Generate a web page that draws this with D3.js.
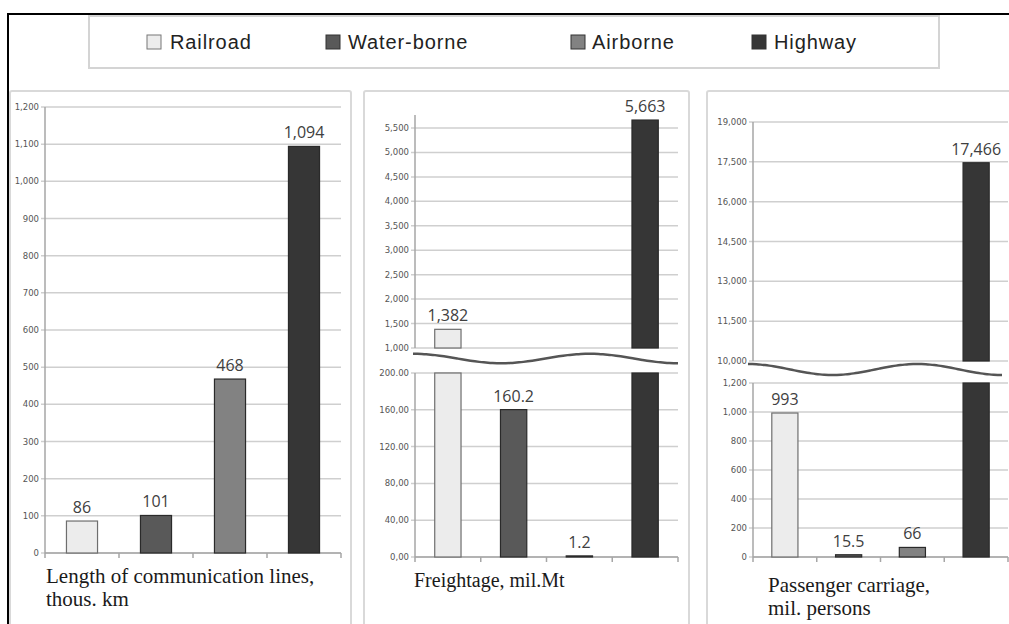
<!DOCTYPE html>
<html>
<head>
<meta charset="utf-8">
<script src="https://cdn.jsdelivr.net/npm/d3@7"></script>
<style>
  body { margin: 0; background: #fff; }
  svg { display: block; }
</style>
</head>
<body>
<script>
// transport comparison, three panels (two of them with a broken y axis)
var categories = ["Railroad", "Water-borne", "Airborne", "Highway"];
var colors = ["#ececec", "#595959", "#828282", "#363636"];

var lengthValues = [86, 101, 468, 1094];
var freightValues = [1382, 160.2, 1.2, 5663];
var passengerValues = [993, 15.5, 66, 17466];

var lengthTicks = [0, 100, 200, 300, 400, 500, 600, 700, 800, 900, 1000, 1100, 1200];
var freightUpperTicks = [1000, 1500, 2000, 2500, 3000, 3500, 4000, 4500, 5000, 5500];
var freightLowerTicks = [0, 40, 80, 120, 160, 200];
var freightLowerTickLabels = ["0,00", "40,00", "80,00", "120.00", "160,00", "200.00"];
var passengerUpperTicks = [10000, 11500, 13000, 14500, 16000, 17500, 19000];
var passengerLowerTicks = [0, 200, 400, 600, 800, 1000, 1200];

var W = 1009, H = 624;
var fmt = d3.format(",");

var svg = d3.select("body").append("svg")
    .attr("width", W)
    .attr("height", H);

svg.append("rect").attr("width", W).attr("height", H).attr("fill", "#fff");

// outer frame (top + left only visible)
svg.append("path")
    .attr("d", "M8," + H + "V14H" + W)
    .attr("fill", "none")
    .attr("stroke", "#000")
    .attr("stroke-width", 2);

// legend
svg.append("rect")
    .attr("x", 89).attr("y", 16)
    .attr("width", 850).attr("height", 52)
    .attr("fill", "#fff")
    .attr("stroke", "#d4d4d4")
    .attr("stroke-width", 2);

var legendSquareX = [147, 326, 571, 752];
var legendTextX = [170, 348, 592, 774];
var legend = svg.append("g").selectAll("g")
    .data(categories)
    .enter().append("g");
legend.append("rect")
    .attr("x", function(d, i) { return legendSquareX[i]; })
    .attr("y", 35)
    .attr("width", 14).attr("height", 14)
    .attr("fill", function(d, i) { return colors[i]; })
    .attr("stroke", function(d, i) { return i === 0 ? "#777" : "#333"; })
    .attr("stroke-width", 1);
legend.append("text")
    .attr("x", function(d, i) { return legendTextX[i]; })
    .attr("y", 49)
    .style("font-family", "'Liberation Sans', Arial, sans-serif")
    .style("font-size", "20px")
    .style("letter-spacing", "0.9px")
    .attr("fill", "#222")
    .text(function(d) { return d; });

// panel frames
[[10, 341], [364, 325], [707, 400]].forEach(function(p) {
  svg.append("rect")
      .attr("x", p[0]).attr("y", 91)
      .attr("width", p[1]).attr("height", 600)
      .attr("rx", 2)
      .attr("fill", "#fff")
      .attr("stroke", "#d9d9d9")
      .attr("stroke-width", 2);
});

function drawSection(g, x, y, ticks, labels, axisTop) {
  var x0 = x.range()[0], x1 = x.range()[1];
  g.append("g").selectAll("line")
      .data(ticks)
      .enter().append("line")
      .attr("x1", x0 - 4).attr("x2", x1)
      .attr("y1", function(d) { return y(d); })
      .attr("y2", function(d) { return y(d); })
      .attr("stroke", "#cfcfcf")
      .attr("stroke-width", 1.5);
  g.append("line")
      .attr("x1", x0).attr("x2", x0)
      .attr("y1", axisTop).attr("y2", y.range()[0])
      .attr("stroke", "#a6a6a6")
      .attr("stroke-width", 1.5);
  g.append("g").selectAll("text")
      .data(ticks)
      .enter().append("text")
      .attr("x", x0 - 6)
      .attr("y", function(d) { return y(d) + 3; })
      .attr("text-anchor", "end")
      .style("font-family", "'DejaVu Sans', Verdana, sans-serif")
      .style("font-size", "8.5px")
      .attr("fill", "#555")
      .text(function(d, i) { return labels ? labels[i] : fmt(d); });
}

function drawXAxis(g, x, yBase) {
  var x0 = x.range()[0], x1 = x.range()[1];
  g.append("line")
      .attr("x1", x0).attr("x2", x1)
      .attr("y1", yBase).attr("y2", yBase)
      .attr("stroke", "#a6a6a6")
      .attr("stroke-width", 1.5);
  g.append("g").selectAll("line")
      .data(d3.range(categories.length + 1))
      .enter().append("line")
      .attr("x1", function(i) { return x0 + i * x.step(); })
      .attr("x2", function(i) { return x0 + i * x.step(); })
      .attr("y1", yBase).attr("y2", yBase + 5)
      .attr("stroke", "#a6a6a6")
      .attr("stroke-width", 1.5);
}

function barRect(g, x, i, yTop, yBottom) {
  g.append("rect")
      .attr("x", x(categories[i]))
      .attr("y", yTop)
      .attr("width", x.bandwidth())
      .attr("height", Math.max(0, yBottom - yTop))
      .attr("fill", colors[i])
      .attr("stroke", i === 0 ? "#6e6e6e" : "#2a2a2a")
      .attr("stroke-width", 1.2);
}

function valueLabel(g, x, i, yTop, v) {
  g.append("text")
      .attr("x", x(categories[i]) + x.bandwidth() / 2)
      .attr("y", yTop - 8)
      .attr("text-anchor", "middle")
      .style("font-family", "'Open Sans', sans-serif")
      .style("font-size", "16px")
      .attr("fill", "#404040")
      .text(fmt(v));
}

// each line of a title is its own text element
function title(g, xPos, yPos, lines, size, gap) {
  lines.forEach(function(line, k) {
    g.append("text")
        .attr("x", xPos)
        .attr("y", yPos + k * gap)
        .style("font-family", "'Liberation Serif', 'Times New Roman', serif")
        .style("font-size", size + "px")
        .attr("fill", "#1a1a1a")
        .text(line);
  });
}

function wave(g, xa, xb, mid, amp) {
  var period = 2 * (xb - xa) / 3;
  var pts = d3.range(0, 61).map(function(k) {
    var xx = xa + (xb - xa) * k / 60;
    return [xx, mid - amp * Math.cos(2 * Math.PI * (xx - xa) / period)];
  });
  g.append("path")
      .attr("d", d3.line().curve(d3.curveBasis)(pts))
      .attr("fill", "none")
      .attr("stroke", "#555")
      .attr("stroke-width", 2.5);
}

// ---- panel 1: length of lines
(function() {
  var g = svg.append("g");
  var x = d3.scaleBand().domain(categories).range([45, 341]).paddingInner(0.58).paddingOuter(0.29);
  var y = d3.scaleLinear().domain([0, 1200]).range([553, 107]);
  drawSection(g, x, y, lengthTicks, null, 107);
  drawXAxis(g, x, y(0));
  lengthValues.forEach(function(v, i) {
    barRect(g, x, i, y(v), y(0));
    valueLabel(g, x, i, y(v), v);
  });
  title(g, 46, 583, ["Length of communication lines,", "thous. km"], 21, 23);
})();

// ---- panel 2: freightage, broken axis
(function() {
  var g = svg.append("g");
  var x = d3.scaleBand().domain(categories).range([415, 678]).paddingInner(0.6).paddingOuter(0.3);
  var yU = d3.scaleLinear().domain([1000, 5500]).range([348, 128]);
  var yL = d3.scaleLinear().domain([0, 200]).range([557, 373]);
  drawSection(g, x, yU, freightUpperTicks, null, 115);
  drawSection(g, x, yL, freightLowerTicks, freightLowerTickLabels, 373);
  drawXAxis(g, x, yL(0));
  freightValues.forEach(function(v, i) {
    if (v > yL.domain()[1]) {
      barRect(g, x, i, yL(yL.domain()[1]), yL(0));
      barRect(g, x, i, yU(v), yU(yU.domain()[0]));
      valueLabel(g, x, i, yU(v), v);
    } else {
      barRect(g, x, i, yL(v), yL(0));
      valueLabel(g, x, i, yL(v), v);
    }
  });
  wave(g, 413, 678, 358.5, 4.8);
  title(g, 414, 587, ["Freightage, mil.Mt"], 20, 0);
})();

// ---- panel 3: passenger carriage, broken axis
(function() {
  var g = svg.append("g");
  var x = d3.scaleBand().domain(categories).range([753, 1008]).paddingInner(0.59).paddingOuter(0.295);
  var yU = d3.scaleLinear().domain([10000, 19000]).range([361, 122]);
  var yL = d3.scaleLinear().domain([0, 1200]).range([557, 383]);
  drawSection(g, x, yU, passengerUpperTicks, null, 122);
  drawSection(g, x, yL, passengerLowerTicks, null, 383);
  drawXAxis(g, x, yL(0));
  passengerValues.forEach(function(v, i) {
    if (v > yL.domain()[1]) {
      barRect(g, x, i, yL(yL.domain()[1]), yL(0));
      barRect(g, x, i, yU(v), yU(yU.domain()[0]));
      valueLabel(g, x, i, yU(v), v);
    } else {
      barRect(g, x, i, yL(v), yL(0));
      valueLabel(g, x, i, yL(v), v);
    }
  });
  wave(g, 748, 1002, 369.5, 5.5);
  title(g, 768, 592, ["Passenger carriage,", "mil. persons"], 21, 23);
})();
</script>
</body>
</html>
